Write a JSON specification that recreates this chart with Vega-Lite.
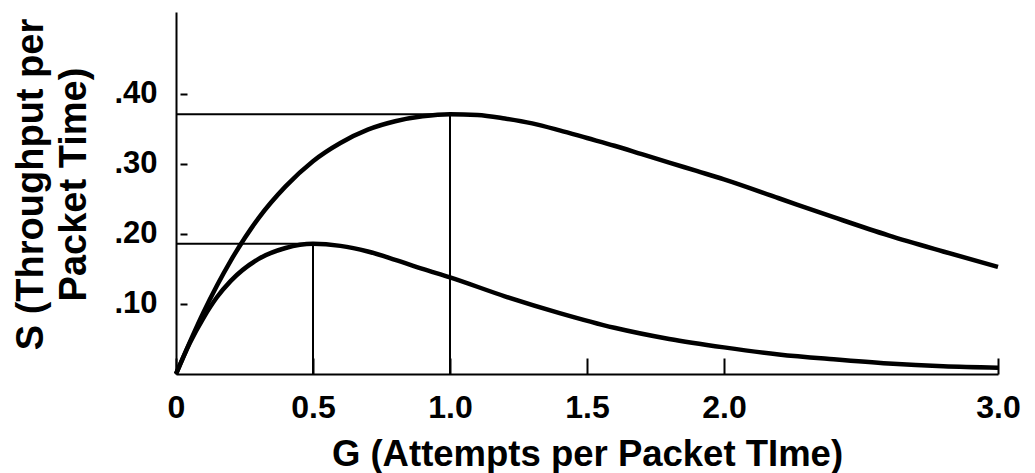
{
  "$schema": "https://vega.github.io/schema/vega-lite/v6.json",
  "width": 822,
  "height": 362,
  "autosize": {"type": "none"},
  "padding": {"left": 176, "top": 12, "right": 37, "bottom": 99},
  "background": "white",
  "config": {"view": {"stroke": null}, "font": "Liberation Sans"},
  "datasets": {
    "guides": [
      {"G": 0, "G2": 1.0, "S": 0.371, "S2": 0.371},
      {"G": 1.0, "G2": 1.0, "S": 0, "S2": 0.371},
      {"G": 0, "G2": 0.5, "S": 0.186, "S2": 0.186},
      {"G": 0.5, "G2": 0.5, "S": 0, "S2": 0.186}
    ],
    "curves": [
      {"curve": "slotted", "G": 0, "S": 0},
      {"curve": "slotted", "G": 0.1, "S": 0.088},
      {"curve": "slotted", "G": 0.2, "S": 0.162},
      {"curve": "slotted", "G": 0.3, "S": 0.222},
      {"curve": "slotted", "G": 0.4, "S": 0.268},
      {"curve": "slotted", "G": 0.5, "S": 0.304},
      {"curve": "slotted", "G": 0.6, "S": 0.330},
      {"curve": "slotted", "G": 0.7, "S": 0.349},
      {"curve": "slotted", "G": 0.8, "S": 0.361},
      {"curve": "slotted", "G": 0.9, "S": 0.368},
      {"curve": "slotted", "G": 1.0, "S": 0.371},
      {"curve": "slotted", "G": 1.1, "S": 0.370},
      {"curve": "slotted", "G": 1.2, "S": 0.365},
      {"curve": "slotted", "G": 1.3, "S": 0.358},
      {"curve": "slotted", "G": 1.4, "S": 0.348},
      {"curve": "slotted", "G": 1.5, "S": 0.337},
      {"curve": "slotted", "G": 1.6, "S": 0.326},
      {"curve": "slotted", "G": 1.7, "S": 0.314},
      {"curve": "slotted", "G": 1.8, "S": 0.302},
      {"curve": "slotted", "G": 1.9, "S": 0.290},
      {"curve": "slotted", "G": 2.0, "S": 0.278},
      {"curve": "slotted", "G": 2.2, "S": 0.251},
      {"curve": "slotted", "G": 2.4, "S": 0.224},
      {"curve": "slotted", "G": 2.6, "S": 0.198},
      {"curve": "slotted", "G": 2.8, "S": 0.175},
      {"curve": "slotted", "G": 3.0, "S": 0.153},
      {"curve": "pure", "G": 0, "S": 0},
      {"curve": "pure", "G": 0.05, "S": 0.044},
      {"curve": "pure", "G": 0.1, "S": 0.080},
      {"curve": "pure", "G": 0.15, "S": 0.110},
      {"curve": "pure", "G": 0.2, "S": 0.133},
      {"curve": "pure", "G": 0.3, "S": 0.164},
      {"curve": "pure", "G": 0.4, "S": 0.180},
      {"curve": "pure", "G": 0.5, "S": 0.186},
      {"curve": "pure", "G": 0.6, "S": 0.183},
      {"curve": "pure", "G": 0.7, "S": 0.175},
      {"curve": "pure", "G": 0.8, "S": 0.163},
      {"curve": "pure", "G": 0.9, "S": 0.150},
      {"curve": "pure", "G": 1.0, "S": 0.138},
      {"curve": "pure", "G": 1.2, "S": 0.111},
      {"curve": "pure", "G": 1.4, "S": 0.087},
      {"curve": "pure", "G": 1.6, "S": 0.066},
      {"curve": "pure", "G": 1.8, "S": 0.050},
      {"curve": "pure", "G": 2.0, "S": 0.038},
      {"curve": "pure", "G": 2.2, "S": 0.028},
      {"curve": "pure", "G": 2.4, "S": 0.021},
      {"curve": "pure", "G": 2.6, "S": 0.015},
      {"curve": "pure", "G": 2.8, "S": 0.011},
      {"curve": "pure", "G": 3.0, "S": 0.009}
    ]
  },
  "layer": [
    {
      "data": {"name": "guides"},
      "mark": {"type": "rule", "stroke": "black", "strokeWidth": 2},
      "encoding": {
        "x": {
          "field": "G", "type": "quantitative",
          "scale": {"domain": [0, 3], "nice": false, "zero": false},
          "axis": {
            "values": [0, 0.5, 1, 1.5, 2, 3],
            "labelExpr": "datum.value == 0 ? '0' : format(datum.value, '.1f')",
            "grid": false,
            "domainColor": "black", "domainWidth": 2,
            "tickColor": "black", "tickWidth": 2, "tickSize": -16,
            "labelFont": "Liberation Sans", "labelFontSize": 32, "labelFontWeight": "bold",
            "labelColor": "black", "labelBaseline": "alphabetic", "labelPadding": 59,
            "labelFlush": false, "labelOverlap": false, "labelBound": false,
            "title": "G (Attempts per Packet TIme)",
            "titleFont": "Liberation Sans", "titleFontSize": 36.5, "titleFontWeight": "bold",
            "titleColor": "black", "titleBaseline": "alphabetic", "titleAlign": "center",
            "titleX": 411, "titleY": 91
          }
        },
        "x2": {"field": "G2"},
        "y": {
          "field": "S", "type": "quantitative",
          "scale": {"domain": [0, 0.517], "nice": false},
          "axis": {
            "values": [0.1, 0.2, 0.3, 0.4],
            "labelExpr": "replace(format(datum.value, '.2f'), '0.', '.')",
            "grid": false,
            "domainColor": "black", "domainWidth": 2,
            "tickColor": "black", "tickWidth": 2, "tickSize": -11, "tickDash": [0, 4, 7, 30],
            "labelFont": "Liberation Sans", "labelFontSize": 31, "labelFontWeight": "bold",
            "labelColor": "black", "labelPadding": 30, "labelBaseline": "middle",
            "labelFlush": false, "labelOverlap": false, "labelBound": false,
            "title": ["S (Throughput per", "\u00a0\u00a0Packet Time)"],
            "titleFont": "Liberation Sans", "titleFontSize": 38, "titleFontWeight": "bold",
            "titleColor": "black", "titleAngle": 270, "titleBaseline": "alphabetic",
            "titleAlign": "center", "titleLineHeight": 43,
            "titleX": -134, "titleY": 172
          }
        },
        "y2": {"field": "S2"}
      }
    },
    {
      "data": {"name": "curves"},
      "mark": {"type": "line", "stroke": "black", "strokeWidth": 4.5, "interpolate": "monotone"},
      "encoding": {
        "x": {"field": "G", "type": "quantitative"},
        "y": {"field": "S", "type": "quantitative"},
        "detail": {"field": "curve"}
      }
    }
  ]
}
